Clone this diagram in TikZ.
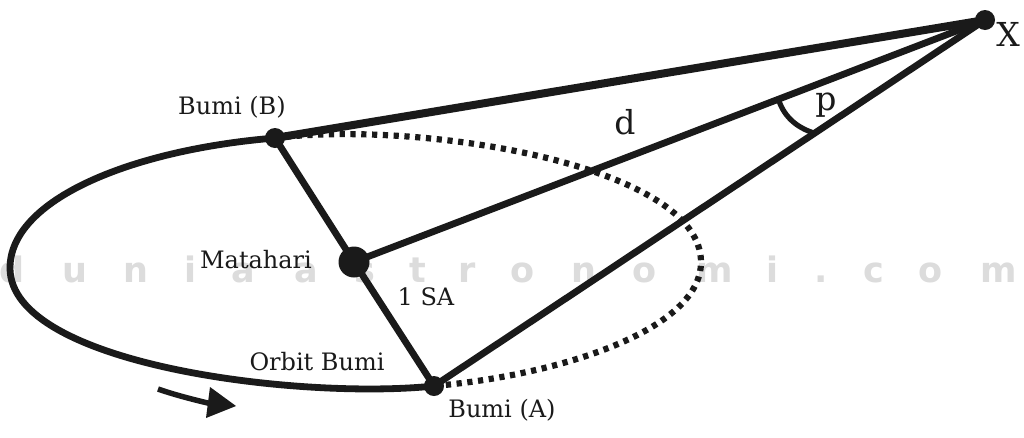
\documentclass[tikz,border=0pt]{standalone}
\usepackage{fontspec}
\setmainfont{DejaVu Serif}
\newfontfamily\wmfont{DejaVu Sans Bold}
\definecolor{ink}{HTML}{1A1A1A}
\definecolor{wm}{HTML}{DCDCDC}
\tikzset{
  x=1pt,y=-1pt,
  dotnode/.style={circle,fill=ink,inner sep=0pt,minimum size=#1},
  lab/.style={text=ink,inner sep=0pt,font=\fontsize{24}{28}\selectfont},
  biglab/.style={text=ink,inner sep=0pt,font=\fontsize{33}{38}\selectfont},
  wmark/.style={text=wm,inner sep=0pt,font=\wmfont\fontsize{35}{40}\selectfont,anchor=base},
  conn/.style={draw=ink,line width=6.8pt},
  orbitsolid/.style={draw=ink,line width=6.8pt,line cap=round},
  orbitdot/.style={draw=ink,line width=6.2pt,dash pattern=on 5.2pt off 5.6pt},
}
\begin{document}
\begin{tikzpicture}
\useasboundingbox (0,0) rectangle (1024,437);
\fill[white] (0,0) rectangle (1024,437);
% watermark
\foreach \c/\px in {d/12,u/75,n/136,i/190,a/243,a/306,s/365,t/418,r/467,o/523,n/584,o/645,m/715,i/772,./821,c/874,o/931,m/999}
  \node[wmark] (wm\px) at (\px,282) {\c};
% bodies
\node[dotnode=31pt] (sun) at (354,262) {};
\node[dotnode=20pt] (x) at (985,20) {};
\node[dotnode=20pt] (b) at (275,138) {};
\node[dotnode=20pt] (a) at (434,386) {};
\coordinate (l) at (10,268);
\coordinate (r) at (701,262);
% orbit
\draw[orbitsolid] (a.center) .. controls (300,400) and (10,365) .. (l) .. controls (10,200) and (130,150) .. (b.center);
\draw[orbitdot] (b.center) .. controls (420,120) and (701,165) .. (r) .. controls (701,330) and (560,375) .. (a.center);
% connectors
\draw[draw=ink,line width=8pt] (b.center) -- (x.center);
\draw[conn] (sun.center) -- (x.center);
\draw[conn] (a.center) -- (x.center);
\draw[conn] (b.center) -- (sun.center);
\draw[conn] (sun.center) -- (a.center);
% angle
\coordinate (p1) at (779,101);
\coordinate (p2) at (814,133);
\draw[draw=ink,line width=5.2pt] (p1) .. controls (785,118) and (798,128) .. (p2);
% direction arrow
\coordinate (t0) at (158,389);
\coordinate (t1) at (212,404);
\draw[draw=ink,line width=5.5pt] (t0) .. controls (175,395) and (195,400) .. (t1);
\fill[ink] (210,387) -- (236,406) -- (206,418) -- cycle;
% labels
\node[lab] (lb) at (232,107) {Bumi (B)};
\node[lab] (lm) at (256,260) {Matahari};
\node[lab] (ls) at (426,297) {1 SA};
\node[lab] (lo) at (317,362) {Orbit Bumi};
\node[lab] (la) at (502,410) {Bumi (A)};
\node[biglab,anchor=base] (ld) at (625,134) {d};
\node[biglab,anchor=base] (lp) at (826,110) {p};
\node[biglab,anchor=base] (lx) at (1008,46) {X};
\end{tikzpicture}
\end{document}
